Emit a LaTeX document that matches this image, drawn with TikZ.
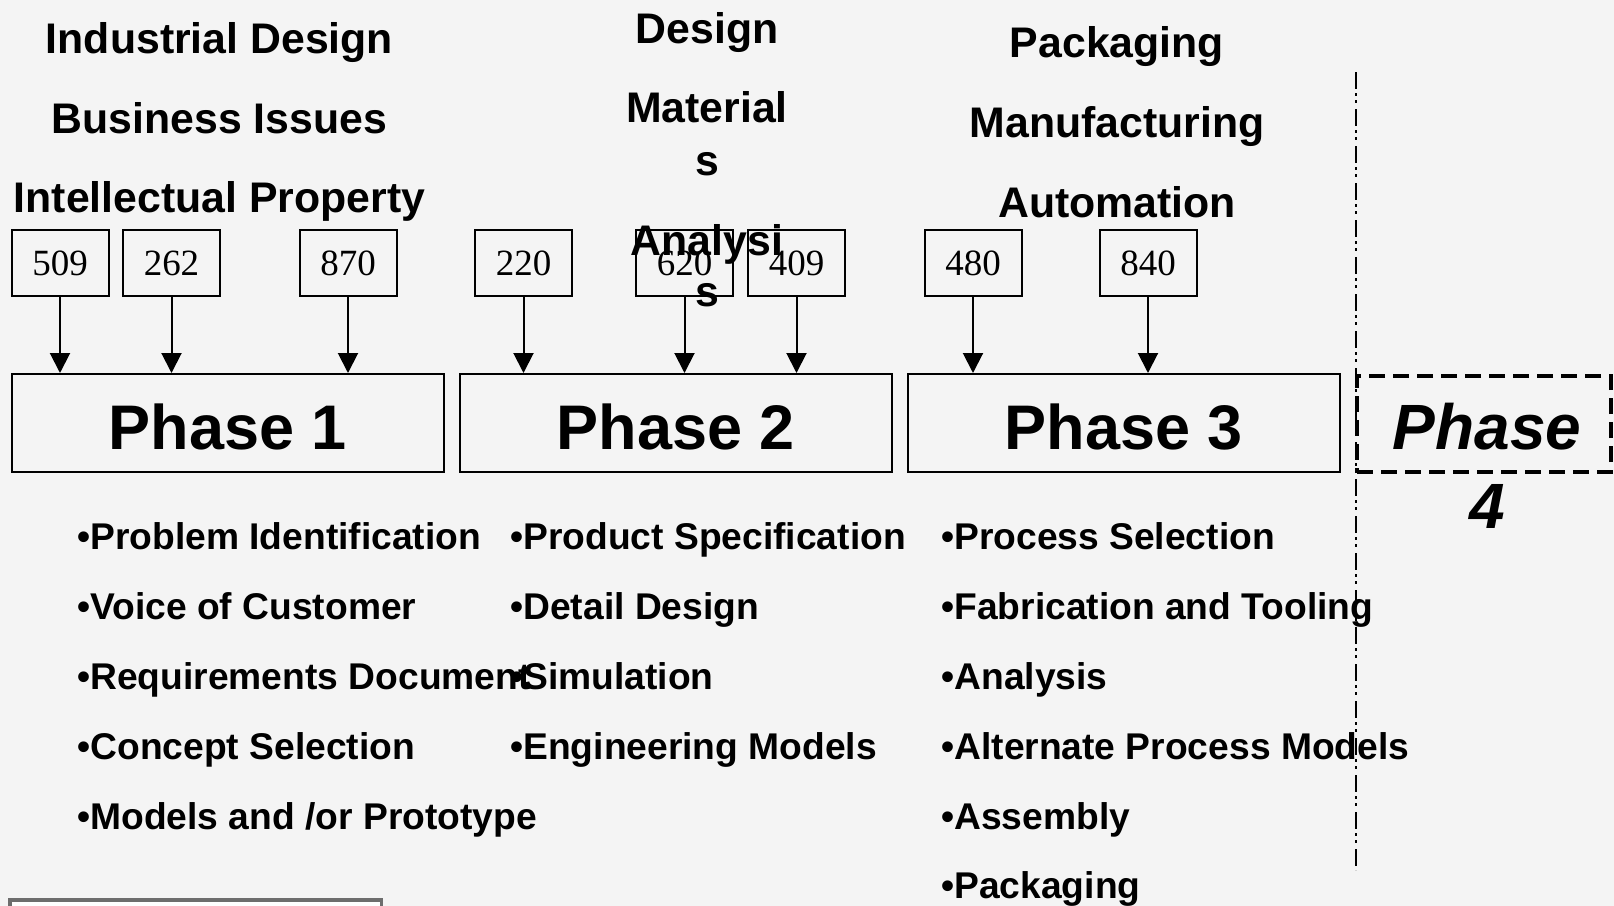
\documentclass[tikz,border=0pt]{standalone}
\usepackage{fontspec}
\setmainfont{Liberation Sans}
\newfontfamily\tnr{Liberation Serif}
\usetikzlibrary{arrows.meta}
\definecolor{bg}{HTML}{F4F4F4}
\definecolor{framegray}{HTML}{6D6D6D}
\begin{document}
\begin{tikzpicture}[x=0.5pt,y=-0.5pt,
  numbox/.style={draw, line width=1pt, minimum width=48.5pt, minimum height=33pt, inner sep=0pt, font=\tnr\fontsize{18.5}{20}\selectfont},
  phasebox/.style={draw, line width=1pt, minimum width=216pt, minimum height=49pt, inner sep=0pt, text height=26pt, text depth=0pt, font=\bfseries\fontsize{31.5}{36}\selectfont},
  p4box/.style={draw, line width=2pt, dash pattern=on 8pt off 4pt, minimum width=127pt, minimum height=48pt, inner sep=0pt},
  p4text/.style={anchor=base, inner sep=0pt, font=\bfseries\itshape\fontsize{32}{36}\selectfont},
  head/.style={anchor=base, inner sep=0pt, font=\bfseries\fontsize{21.4}{25}\selectfont},
  item/.style={anchor=base west, inner sep=0pt, font=\bfseries\fontsize{18.6}{22}\selectfont},
  arr/.style={line width=1pt, -{Triangle[width=10pt,length=10pt]}},
  dashdot/.style={line width=0.65pt, dash pattern=on 8.3pt off 2.2pt on 1.5pt off 2pt on 1.5pt off 3pt}
]
\useasboundingbox[fill=bg] (0,0) rectangle (1614,906);

% bottom-left partial frame
\draw[framegray, line width=1.75pt, fill=white] (9.75,899.75) rectangle (381.25,960);

% phase boxes
\node[phasebox] (p1) at (228,423) {Phase 1};
\node[phasebox] (p2) at (676,423) {Phase 2};
\node[phasebox] (p3) at (1124,423) {Phase 3};

% numbered boxes
\node[numbox] (n509) at (60,263) {509};
\node[numbox] (n262) at (171.5,263) {262};
\node[numbox] (n870) at (348,263) {870};
\node[numbox] (n220) at (523.5,263) {220};
\node[numbox] (n620) at (684.5,263) {620};
\node[numbox] (n409) at (796.5,263) {409};
\node[numbox] (n480) at (973,263) {480};
\node[numbox] (n840) at (1148,263) {840};

% arrows
\draw[arr] (n509) -- (n509 |- p1.north);
\draw[arr] (n262) -- (n262 |- p1.north);
\draw[arr] (n870) -- (n870 |- p1.north);
\draw[arr] (n220) -- (n220 |- p2.north);
\draw[arr] (n620) -- (n620 |- p2.north);
\draw[arr] (n409) -- (n409 |- p2.north);
\draw[arr] (n480) -- (n480 |- p3.north);
\draw[arr] (n840) -- (n840 |- p3.north);

% divider
\coordinate (vtop) at (1356,72);
\coordinate (vbot) at (1356,870);
\draw[dashdot] (vtop) -- (vbot);

% phase 4
\node[p4box] (p4) at (1484,424) {};
\node[p4text] (p4a) at (1487,449) {Phase};
\node[p4text] (p4b) at (1487,528) {4};

% headings
\node[head] (h1) at (219.5,53) {Industrial Design};
\node[head] (h2) at (219.5,133) {Business Issues};
\node[head] (h3) at (219.5,212) {Intellectual Property};
\node[head] (h4) at (707,43) {Design};
\node[head] (h5) at (707,122) {Material};
\node[head] (h5b) at (707,175) {s};
\node[head] (h6) at (707,255) {Analysi};
\node[head] (h6b) at (707,306) {s};
\node[head] (h7) at (1117,57) {Packaging};
\node[head] (h8) at (1117,137) {Manufacturing};
\node[head] (h9) at (1117,217) {Automation};

% bullet lists
\node[item] (a1) at (77,549) {•Problem Identification};
\node[item] (a2) at (77,619) {•Voice of Customer};
\node[item] (a3) at (77,689) {•Requirements Document};
\node[item] (a4) at (77,759) {•Concept Selection};
\node[item] (a5) at (77,829) {•Models and /or Prototype};

\node[item] (b1) at (510,549) {•Product Specification};
\node[item] (b2) at (510,619) {•Detail Design};
\node[item] (b3) at (510,689) {•Simulation};
\node[item] (b4) at (510,759) {•Engineering Models};

\node[item] (c1) at (941,549) {•Process Selection};
\node[item] (c2) at (941,619) {•Fabrication and Tooling};
\node[item] (c3) at (941,689) {•Analysis};
\node[item] (c4) at (941,759) {•Alternate Process Models};
\node[item] (c5) at (941,829) {•Assembly};
\node[item] (c6) at (941,898) {•Packaging};
\end{tikzpicture}
\end{document}
